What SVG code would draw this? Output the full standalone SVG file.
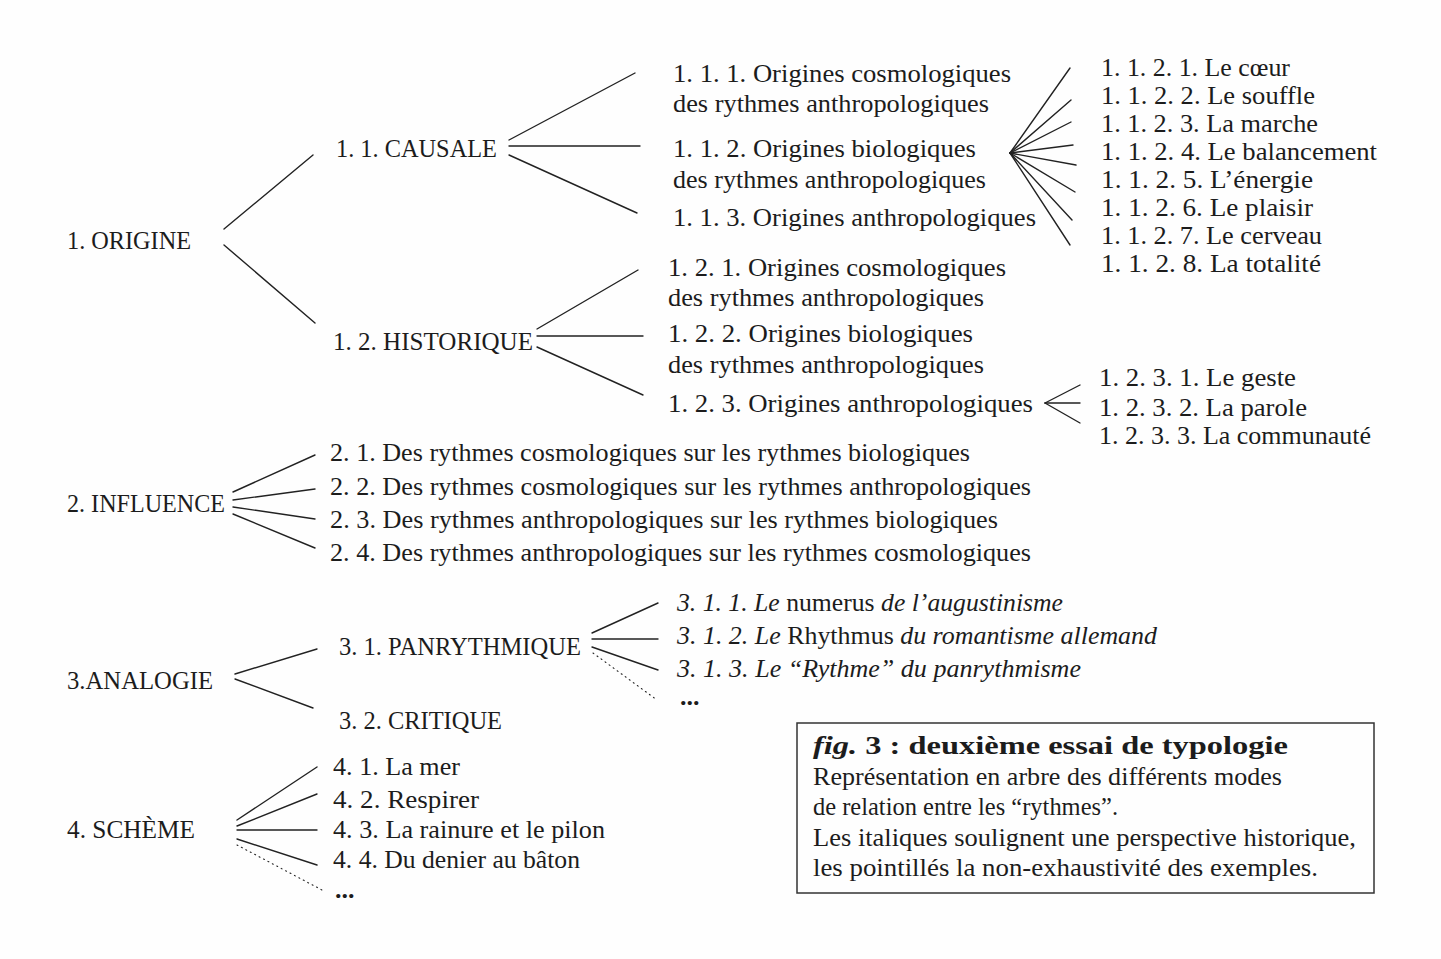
<svg xmlns="http://www.w3.org/2000/svg" width="1441" height="959" viewBox="0 0 1441 959">
<style>
text{font-family:"Liberation Serif","Times New Roman",serif;font-size:26px;fill:#1c1c1c}
.h{font-size:26px}
.i{font-style:italic}
.b{font-weight:bold}
.c line{stroke:#222;stroke-width:1.4;stroke-linecap:round}
.c line.d{stroke-dasharray:1 4;stroke-width:1.1}
</style>
<rect width="1441" height="959" fill="#fefefe"/>
<g class="c" id="connectors">
<line x1="224" y1="229" x2="313" y2="155"/>
<line x1="224" y1="245" x2="315" y2="323"/>
<line x1="509" y1="140" x2="635" y2="73"/>
<line x1="509" y1="146" x2="640" y2="146"/>
<line x1="509" y1="155" x2="637" y2="213"/>
<line x1="1010" y1="153" x2="1070" y2="68"/>
<line x1="1010" y1="153" x2="1071" y2="100"/>
<line x1="1010" y1="153" x2="1071" y2="122"/>
<line x1="1010" y1="153" x2="1073" y2="145"/>
<line x1="1010" y1="153" x2="1076" y2="165"/>
<line x1="1010" y1="153" x2="1075" y2="192"/>
<line x1="1010" y1="153" x2="1072" y2="220"/>
<line x1="1010" y1="153" x2="1070" y2="245"/>
<line x1="537" y1="329" x2="638" y2="270"/>
<line x1="537" y1="336" x2="643" y2="336"/>
<line x1="537" y1="347" x2="643" y2="395"/>
<line x1="1045" y1="403" x2="1080" y2="385"/>
<line x1="1045" y1="403" x2="1080" y2="403"/>
<line x1="1045" y1="403" x2="1080" y2="423"/>
<line x1="233" y1="492" x2="315" y2="455"/>
<line x1="233" y1="500" x2="315" y2="489"/>
<line x1="233" y1="507" x2="315" y2="519"/>
<line x1="233" y1="514" x2="315" y2="548"/>
<line x1="235" y1="674" x2="317" y2="649"/>
<line x1="235" y1="679" x2="313" y2="708"/>
<line x1="592" y1="633" x2="658" y2="603"/>
<line x1="592" y1="639" x2="658" y2="639"/>
<line x1="592" y1="647" x2="658" y2="670"/>
<line class="d" x1="593" y1="653" x2="657" y2="700"/>
<line x1="237" y1="820" x2="317" y2="767"/>
<line x1="237" y1="826" x2="317" y2="794"/>
<line x1="237" y1="830" x2="317" y2="830"/>
<line x1="237" y1="839" x2="317" y2="865"/>
<line class="d" x1="237" y1="845" x2="322" y2="890"/>
</g>
<g id="n1"><text class="h" x="67" y="249" textLength="124" lengthAdjust="spacingAndGlyphs">1. ORIGINE</text></g>
<g id="n2"><text class="h" x="67" y="512" textLength="158" lengthAdjust="spacingAndGlyphs">2. INFLUENCE</text></g>
<g id="n3"><text class="h" x="67" y="689" textLength="146" lengthAdjust="spacingAndGlyphs">3.ANALOGIE</text></g>
<g id="n4"><text class="h" x="67" y="838" textLength="128" lengthAdjust="spacingAndGlyphs">4. SCHÈME</text></g>
<g id="n11"><text x="336" y="157" textLength="161" lengthAdjust="spacingAndGlyphs">1. 1. CAUSALE</text></g>
<g id="n12"><text x="333" y="350" textLength="200" lengthAdjust="spacingAndGlyphs">1. 2. HISTORIQUE</text></g>
<g id="n31"><text x="339" y="655" textLength="242" lengthAdjust="spacingAndGlyphs">3. 1. PANRYTHMIQUE</text></g>
<g id="n32"><text x="339" y="729" textLength="163" lengthAdjust="spacingAndGlyphs">3. 2. CRITIQUE</text></g>
<g id="n111"><text x="673" y="82" textLength="338" lengthAdjust="spacingAndGlyphs">1. 1. 1. Origines cosmologiques</text><text x="673" y="112" textLength="316" lengthAdjust="spacingAndGlyphs">des rythmes anthropologiques</text></g>
<g id="n112"><text x="673" y="157" textLength="303" lengthAdjust="spacingAndGlyphs">1. 1. 2. Origines biologiques</text><text x="673" y="188" textLength="313" lengthAdjust="spacingAndGlyphs">des rythmes anthropologiques</text></g>
<g id="n113"><text x="673" y="226" textLength="363" lengthAdjust="spacingAndGlyphs">1. 1. 3. Origines anthropologiques</text></g>
<g id="n121"><text x="668" y="276" textLength="338" lengthAdjust="spacingAndGlyphs">1. 2. 1. Origines cosmologiques</text><text x="668" y="306" textLength="316" lengthAdjust="spacingAndGlyphs">des rythmes anthropologiques</text></g>
<g id="n122"><text x="668" y="342" textLength="305" lengthAdjust="spacingAndGlyphs">1. 2. 2. Origines biologiques</text><text x="668" y="373" textLength="316" lengthAdjust="spacingAndGlyphs">des rythmes anthropologiques</text></g>
<g id="n123"><text x="668" y="412" textLength="365" lengthAdjust="spacingAndGlyphs">1. 2. 3. Origines anthropologiques</text></g>
<g id="n1121"><text x="1101" y="76" textLength="189" lengthAdjust="spacingAndGlyphs">1. 1. 2. 1. Le cœur</text></g>
<g id="n1122"><text x="1101" y="104" textLength="214" lengthAdjust="spacingAndGlyphs">1. 1. 2. 2. Le souffle</text></g>
<g id="n1123"><text x="1101" y="132" textLength="217" lengthAdjust="spacingAndGlyphs">1. 1. 2. 3. La marche</text></g>
<g id="n1124"><text x="1101" y="160" textLength="276" lengthAdjust="spacingAndGlyphs">1. 1. 2. 4. Le balancement</text></g>
<g id="n1125"><text x="1101" y="188" textLength="212" lengthAdjust="spacingAndGlyphs">1. 1. 2. 5. L’énergie</text></g>
<g id="n1126"><text x="1101" y="216" textLength="212" lengthAdjust="spacingAndGlyphs">1. 1. 2. 6. Le plaisir</text></g>
<g id="n1127"><text x="1101" y="244" textLength="221" lengthAdjust="spacingAndGlyphs">1. 1. 2. 7. Le cerveau</text></g>
<g id="n1128"><text x="1101" y="272" textLength="220" lengthAdjust="spacingAndGlyphs">1. 1. 2. 8. La totalité</text></g>
<g id="n1231"><text x="1099" y="386" textLength="197" lengthAdjust="spacingAndGlyphs">1. 2. 3. 1. Le geste</text></g>
<g id="n1232"><text x="1099" y="416" textLength="208" lengthAdjust="spacingAndGlyphs">1. 2. 3. 2. La parole</text></g>
<g id="n1233"><text x="1099" y="444" textLength="272" lengthAdjust="spacingAndGlyphs">1. 2. 3. 3. La communauté</text></g>
<g id="n21"><text x="330" y="461" textLength="640" lengthAdjust="spacingAndGlyphs">2. 1. Des rythmes cosmologiques sur les rythmes biologiques</text></g>
<g id="n22"><text x="330" y="495" textLength="701" lengthAdjust="spacingAndGlyphs">2. 2. Des rythmes cosmologiques sur les rythmes anthropologiques</text></g>
<g id="n23"><text x="330" y="528" textLength="668" lengthAdjust="spacingAndGlyphs">2. 3. Des rythmes anthropologiques sur les rythmes biologiques</text></g>
<g id="n24"><text x="330" y="561" textLength="701" lengthAdjust="spacingAndGlyphs">2. 4. Des rythmes anthropologiques sur les rythmes cosmologiques</text></g>
<g id="n311"><text x="677" y="611" textLength="386" lengthAdjust="spacingAndGlyphs"><tspan class="i">3. 1. 1. Le</tspan> numerus <tspan class="i">de l’augustinisme</tspan></text></g>
<g id="n312"><text x="677" y="644" textLength="480" lengthAdjust="spacingAndGlyphs"><tspan class="i">3. 1. 2. Le</tspan> Rhythmus <tspan class="i">du romantisme allemand</tspan></text></g>
<g id="n313"><text class="i" x="677" y="677" textLength="404" lengthAdjust="spacingAndGlyphs">3. 1. 3. Le “Rythme” du panrythmisme</text></g>
<g id="n31x"><text class="b" x="680" y="705" font-size="22">...</text></g>
<g id="n41"><text x="333" y="775" textLength="127" lengthAdjust="spacingAndGlyphs">4. 1. La mer</text></g>
<g id="n42"><text x="333" y="808" textLength="146" lengthAdjust="spacingAndGlyphs">4. 2.  Respirer</text></g>
<g id="n43"><text x="333" y="838" textLength="272" lengthAdjust="spacingAndGlyphs">4. 3. La rainure et le pilon</text></g>
<g id="n44"><text x="333" y="868" textLength="247" lengthAdjust="spacingAndGlyphs">4. 4. Du denier au bâton</text></g>
<g id="n4x"><text class="b" x="335" y="898" font-size="22">...</text></g>
<g id="caption">
<rect x="797" y="723" width="577" height="170" fill="none" stroke="#333" stroke-width="1.5"/>
<text class="b" x="813" y="754" textLength="475" lengthAdjust="spacingAndGlyphs" font-size="24"><tspan class="i">fig.</tspan> 3 : deuxième essai de typologie</text>
<text x="813" y="785" textLength="469" lengthAdjust="spacingAndGlyphs">Représentation en arbre des différents modes</text>
<text x="813" y="815" textLength="305" lengthAdjust="spacingAndGlyphs">de relation entre les “rythmes”.</text>
<text x="813" y="846" textLength="543" lengthAdjust="spacingAndGlyphs">Les italiques soulignent une perspective historique,</text>
<text x="813" y="876" textLength="505" lengthAdjust="spacingAndGlyphs">les pointillés la non-exhaustivité des exemples.</text>
</g>
</svg>
